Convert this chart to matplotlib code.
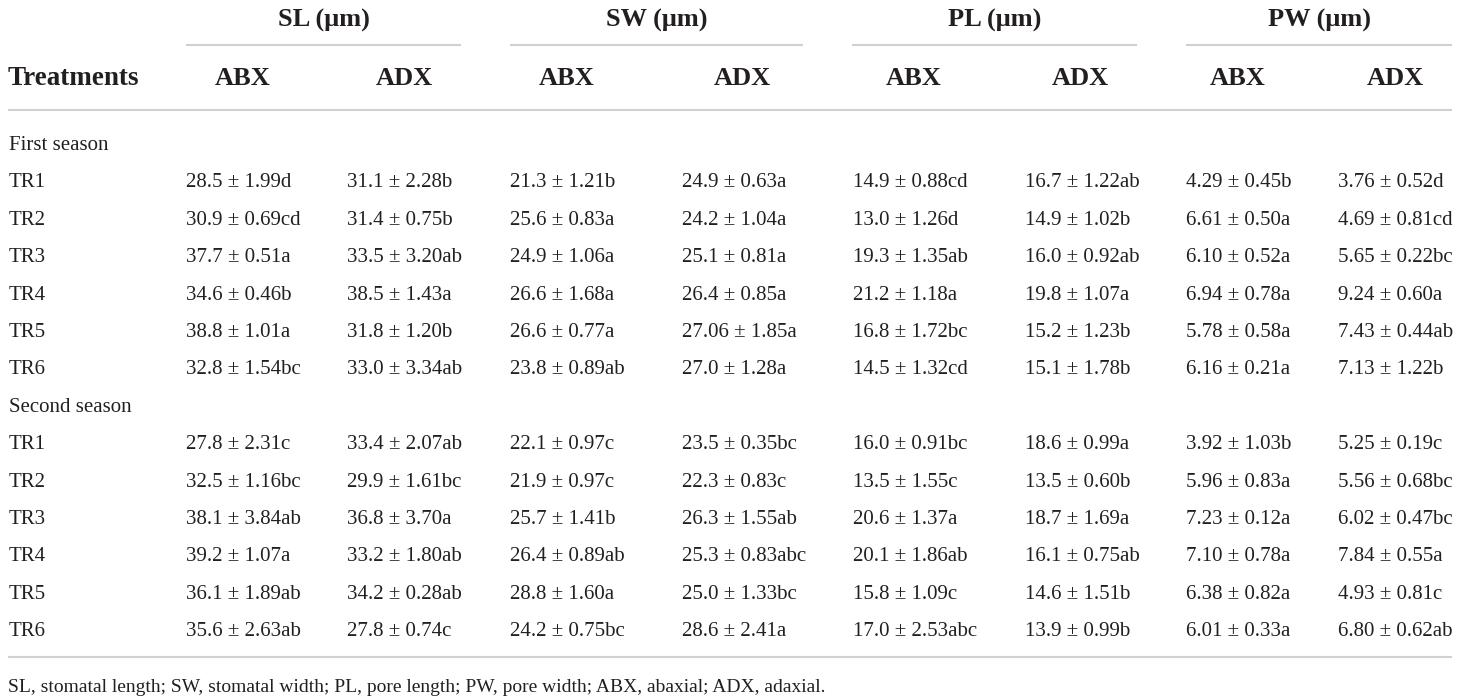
import matplotlib.pyplot as plt

plt.rcParams['font.family'] = ['Liberation Serif', 'DejaVu Serif']

groups = ["SL (μm)", "SW (μm)", "PL (μm)", "PW (μm)"]
sides = ["ABX", "ADX"]
treatments = ["TR1", "TR2", "TR3", "TR4", "TR5", "TR6"]
seasons = ["First season", "Second season"]

first_season = [
    ["28.5 ± 1.99d", "31.1 ± 2.28b", "21.3 ± 1.21b", "24.9 ± 0.63a", "14.9 ± 0.88cd", "16.7 ± 1.22ab", "4.29 ± 0.45b", "3.76 ± 0.52d"],
    ["30.9 ± 0.69cd", "31.4 ± 0.75b", "25.6 ± 0.83a", "24.2 ± 1.04a", "13.0 ± 1.26d", "14.9 ± 1.02b", "6.61 ± 0.50a", "4.69 ± 0.81cd"],
    ["37.7 ± 0.51a", "33.5 ± 3.20ab", "24.9 ± 1.06a", "25.1 ± 0.81a", "19.3 ± 1.35ab", "16.0 ± 0.92ab", "6.10 ± 0.52a", "5.65 ± 0.22bc"],
    ["34.6 ± 0.46b", "38.5 ± 1.43a", "26.6 ± 1.68a", "26.4 ± 0.85a", "21.2 ± 1.18a", "19.8 ± 1.07a", "6.94 ± 0.78a", "9.24 ± 0.60a"],
    ["38.8 ± 1.01a", "31.8 ± 1.20b", "26.6 ± 0.77a", "27.06 ± 1.85a", "16.8 ± 1.72bc", "15.2 ± 1.23b", "5.78 ± 0.58a", "7.43 ± 0.44ab"],
    ["32.8 ± 1.54bc", "33.0 ± 3.34ab", "23.8 ± 0.89ab", "27.0 ± 1.28a", "14.5 ± 1.32cd", "15.1 ± 1.78b", "6.16 ± 0.21a", "7.13 ± 1.22b"],
]
second_season = [
    ["27.8 ± 2.31c", "33.4 ± 2.07ab", "22.1 ± 0.97c", "23.5 ± 0.35bc", "16.0 ± 0.91bc", "18.6 ± 0.99a", "3.92 ± 1.03b", "5.25 ± 0.19c"],
    ["32.5 ± 1.16bc", "29.9 ± 1.61bc", "21.9 ± 0.97c", "22.3 ± 0.83c", "13.5 ± 1.55c", "13.5 ± 0.60b", "5.96 ± 0.83a", "5.56 ± 0.68bc"],
    ["38.1 ± 3.84ab", "36.8 ± 3.70a", "25.7 ± 1.41b", "26.3 ± 1.55ab", "20.6 ± 1.37a", "18.7 ± 1.69a", "7.23 ± 0.12a", "6.02 ± 0.47bc"],
    ["39.2 ± 1.07a", "33.2 ± 1.80ab", "26.4 ± 0.89ab", "25.3 ± 0.83abc", "20.1 ± 1.86ab", "16.1 ± 0.75ab", "7.10 ± 0.78a", "7.84 ± 0.55a"],
    ["36.1 ± 1.89ab", "34.2 ± 0.28ab", "28.8 ± 1.60a", "25.0 ± 1.33bc", "15.8 ± 1.09c", "14.6 ± 1.51b", "6.38 ± 0.82a", "4.93 ± 0.81c"],
    ["35.6 ± 2.63ab", "27.8 ± 0.74c", "24.2 ± 0.75bc", "28.6 ± 2.41a", "17.0 ± 2.53abc", "13.9 ± 0.99b", "6.01 ± 0.33a", "6.80 ± 0.62ab"],
]
footnote = "SL, stomatal length; SW, stomatal width; PL, pore length; PW, pore width; ABX, abaxial; ADX, adaxial."

# layout in pixels (figure is drawn in pixel coordinates, y down)
W, H = 1460, 698
col_x = [186, 347, 510, 682, 853, 1025, 1186, 1338]
sub_x = [243, 404, 567, 742, 914, 1080, 1238, 1395]
group_span = [(186, 461), (510, 803), (852, 1137), (1186, 1452)]
row0 = 143
row_step = 37.4
text_col = "#231f20"
line_col = "#d0d0d0"

fig = plt.figure(figsize=(W / 100, H / 100), dpi=100)
ax = fig.add_axes([0, 0, 1, 1])
ax.set_xlim(0, W)
ax.set_ylim(H, 0)
ax.axis("off")

# column group headers with their underlines
for g, (x0, x1) in zip(groups, group_span):
    ax.text((x0 + x1) / 2, 27, g, ha="center", va="baseline", fontsize=19, fontweight="bold", color=text_col)
    ax.plot([x0, x1], [45, 45], color=line_col, lw=1.5, solid_capstyle="butt")

ax.text(8, 85, "Treatments", ha="left", va="baseline", fontsize=19.5, fontweight="bold", color=text_col)
for i, x in enumerate(sub_x):
    ax.text(x, 85, sides[i % 2], ha="center", va="baseline", fontsize=19, fontweight="bold", color=text_col)

ax.plot([8, 1452], [110, 110], color=line_col, lw=1.5, solid_capstyle="butt")

k = 0
for season, rows in zip(seasons, [first_season, second_season]):
    yb = row0 + k * row_step + 7
    ax.text(9, yb, season, ha="left", va="baseline", fontsize=15, color=text_col)
    k += 1
    for tr, vals in zip(treatments, rows):
        yb = row0 + k * row_step + 7
        ax.text(9, yb, tr, ha="left", va="baseline", fontsize=15, color=text_col)
        for x, v in zip(col_x, vals):
            ax.text(x, yb, v, ha="left", va="baseline", fontsize=15, color=text_col)
        k += 1

ax.plot([8, 1452], [657, 657], color=line_col, lw=1.5, solid_capstyle="butt")
ax.text(8, 692, footnote, ha="left", va="baseline", fontsize=14, color=text_col)

fig.savefig("out.png", dpi=100)
